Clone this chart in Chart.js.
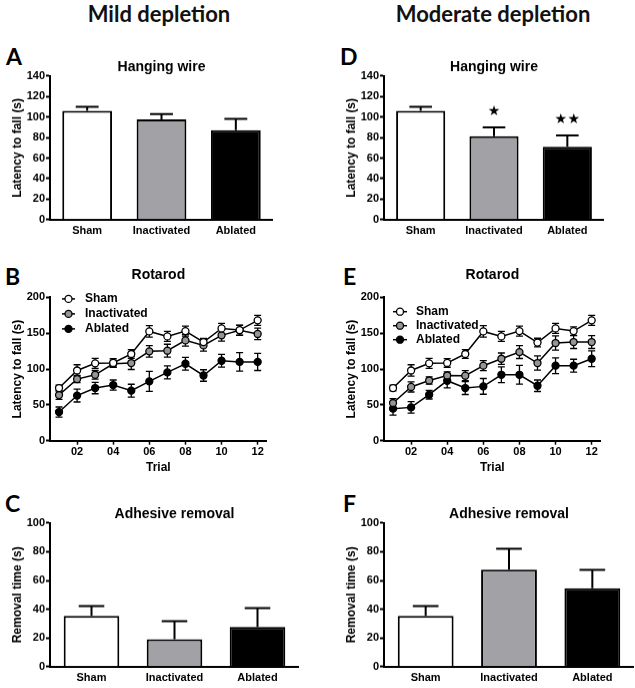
<!DOCTYPE html>
<html><head><meta charset="utf-8">
<script src="https://cdn.jsdelivr.net/npm/chart.js@4.4.1/dist/chart.umd.min.js"></script>
<style>
html,body{margin:0;padding:0;background:#fff;width:635px;height:688px;overflow:hidden;}
.panel{position:absolute;}
.hdr{position:absolute;font-family:Lato,"Open Sans",sans-serif;font-weight:700;font-size:22px;line-height:22px;white-space:nowrap;color:#111;transform:translateX(-50%);}
.let{position:absolute;font-family:Lato,"Open Sans",sans-serif;font-weight:700;font-size:23px;line-height:23px;color:#000;}
</style></head><body>
<div class="hdr" style="left:159px;top:3px;">Mild depletion</div>
<div class="hdr" style="left:493px;top:3px;">Moderate depletion</div>
<div class="let" style="left:6px;top:45px;">A</div>
<div class="let" style="left:5px;top:265px;">B</div>
<div class="let" style="left:5px;top:492px;">C</div>
<div class="let" style="left:340px;top:45px;">D</div>
<div class="let" style="left:343px;top:265px;">E</div>
<div class="let" style="left:343px;top:492px;">F</div>
<div class="panel" id="pA"><canvas id="cA"></canvas></div>
<div class="panel" id="pB"><canvas id="cB"></canvas></div>
<div class="panel" id="pC"><canvas id="cC"></canvas></div>
<div class="panel" id="pD"><canvas id="cD"></canvas></div>
<div class="panel" id="pE"><canvas id="cE"></canvas></div>
<div class="panel" id="pF"><canvas id="cF"></canvas></div>
<script>
// ---------------- DATA ----------------
const groups = ['Sham', 'Inactivated', 'Ablated'];

const wireMildMeans = [106, 97.7, 87.3];
const wireMildSem   = [4, 5.2, 11];
const wireModMeans  = [106, 81.4, 71];
const wireModSem    = [4, 8.5, 11];
const wireModSig    = ['', '★', '★★'];

const adhMildMeans = [35.4, 19.1, 27.7];
const adhMildSem   = [6.8, 12.6, 13.1];
const adhModMeans  = [35.4, 67.6, 54.5];
const adhModSem    = [6.8, 14.4, 12.9];

const trials = [1, 2, 3, 4, 5, 6, 7, 8, 9, 10, 11, 12];
const trialTickValues = [2, 4, 6, 8, 10, 12];
const trialTickLabels = ['02', '04', '06', '08', '10', '12'];

const rotaMildSham     = [73.5, 98, 108, 108.5, 121, 152.5, 145.6, 153, 137.7, 156.7, 154.4, 168];
const rotaMildShamSem  = [4, 8, 7, 6, 6, 8, 7, 7, 5, 7, 7, 7];
const rotaMildInact    = [63.7, 86, 92, 107.4, 108.4, 124.7, 125.6, 140, 133, 147, 154, 149];
const rotaMildInactSem = [6, 5, 6, 5, 9, 8, 9, 8, 8, 8, 7, 8];
const rotaMildAbl      = [40, 63, 73.5, 77.7, 69.8, 82.8, 95.3, 107.4, 91, 111.6, 110, 110];
const rotaMildAblSem   = [7, 9, 8, 7, 9, 14, 9, 9, 8, 9, 13, 12];

const rotaModSham      = [73.5, 98, 108, 108.5, 121, 152.5, 145.6, 153, 137, 156.7, 153, 168];
const rotaModShamSem   = [4, 8, 7, 6, 6, 8, 7, 7, 6, 7, 6, 7];
const rotaModInact     = [52.6, 75, 84, 91, 90.7, 104.7, 114.4, 123.7, 108.4, 136.3, 137.7, 137.7];
const rotaModInactSem  = [6, 7, 5, 5, 7, 7, 8, 9, 10, 10, 9, 9];
const rotaModAbl       = [44.7, 46.5, 64.2, 83.7, 73.5, 75.8, 92, 92, 76.7, 104.7, 104.7, 114.4];
const rotaModAblSem    = [9, 8, 6, 10, 9, 11, 11, 13, 8, 11, 9, 11];

// ---------------- STYLE ----------------
Chart.defaults.font.family = '"Liberation Sans", Arial, sans-serif';
Chart.defaults.font.weight = 'bold';
Chart.defaults.color = '#000';

const barFills = ['#ffffff', '#a2a2a6', '#000000'];

const errorBarsPlugin = {
  id: 'errorBars',
  beforeDatasetsDraw(chart, args, opts) { if (opts.mode === 'line') drawErrors(chart, opts); },
  afterDatasetsDraw(chart, args, opts) { if (opts.mode === 'bar') drawErrors(chart, opts); }
};
function drawErrors(chart, opts) {
  const ctx = chart.ctx, ys = chart.scales.y;
  chart.data.datasets.forEach((ds, di) => {
    if (!ds.errors) return;
    const meta = chart.getDatasetMeta(di);
    ctx.save();
    ctx.strokeStyle = '#000';
    ctx.lineWidth = opts.lineWidth;
    meta.data.forEach((el, i) => {
      const v = opts.mode === 'bar' ? ds.data[i] : ds.data[i].y;
      const e = ds.errors[i];
      const yt = ys.getPixelForValue(v + e);
      const yb = opts.mode === 'bar' ? ys.getPixelForValue(v) : ys.getPixelForValue(v - e);
      const hw = opts.mode === 'bar' ? el.width * opts.capFrac : opts.capHalf;
      ctx.beginPath();
      ctx.moveTo(el.x, yb); ctx.lineTo(el.x, yt);
      ctx.moveTo(el.x - hw, yt); ctx.lineTo(el.x + hw, yt);
      if (opts.mode === 'line') { ctx.moveTo(el.x - hw, yb); ctx.lineTo(el.x + hw, yb); }
      ctx.stroke();
    });
    ctx.restore();
  });
}

const sigPlugin = {
  id: 'sigStars',
  afterDatasetsDraw(chart, args, opts) {
    const ds = chart.data.datasets[0];
    if (!ds.sig) return;
    const ctx = chart.ctx, ys = chart.scales.y, meta = chart.getDatasetMeta(0);
    ctx.save();
    ctx.fillStyle = '#000';
    ctx.font = opts.font;
    ctx.textAlign = 'center';
    ctx.textBaseline = 'middle';
    meta.data.forEach((el, i) => {
      if (!ds.sig[i]) return;
      const chars = Array.from(ds.sig[i]);
      const yt = ys.getPixelForValue(ds.data[i] + ds.errors[i]);
      const x0 = el.x - (chars.length - 1) * opts.spacing / 2;
      chars.forEach((c, k) => ctx.fillText(c, x0 + k * opts.spacing, yt - opts.gap));
    });
    ctx.restore();
  }
};

const lineLegendPlugin = {
  id: 'lineLegend',
  afterDraw(chart, args, opts) {
    if (!opts.show) return;
    const ctx = chart.ctx, a = chart.chartArea;
    ctx.save();
    chart.data.datasets.forEach((ds, i) => {
      const y = a.top + opts.y0 + i * opts.dy;
      const x0 = a.left + opts.x0, x1 = a.left + opts.x1;
      ctx.strokeStyle = '#000'; ctx.lineWidth = ds.borderWidth;
      ctx.beginPath(); ctx.moveTo(x0, y); ctx.lineTo(x1, y); ctx.stroke();
      ctx.beginPath(); ctx.arc((x0 + x1) / 2, y, ds.pointRadius, 0, Math.PI * 2);
      ctx.fillStyle = ds.pointBackgroundColor; ctx.fill();
      ctx.lineWidth = ds.pointBorderWidth; ctx.strokeStyle = ds.pointBorderColor; ctx.stroke();
      ctx.fillStyle = '#000';
      ctx.font = 'bold 12px "Liberation Sans", Arial, sans-serif';
      ctx.textAlign = 'left'; ctx.textBaseline = 'middle';
      ctx.fillText(ds.label, a.left + opts.textX, y);
    });
    ctx.restore();
  }
};

Chart.register(errorBarsPlugin, sigPlugin, lineLegendPlugin);

const Y_W = 50, RP = 6;
function place(id, area, titlePadBottom, xH) {
  const titleH = 2 + 14 * 1.2 + titlePadBottom;
  const el = document.getElementById(id);
  el.style.left = (area.l - Y_W) + 'px';
  el.style.top = (area.t - titleH) + 'px';
  el.style.width = (area.r - area.l + Y_W + RP) + 'px';
  el.style.height = (area.b - area.t + titleH + xH) + 'px';
}

function yAxis(max, step, label) {
  return {
    min: 0, max: max,
    ticks: { stepSize: step, color: '#000', font: { size: 11, weight: 'bold' }, padding: 1 },
    grid: { drawOnChartArea: false, drawTicks: true, tickLength: 4, tickColor: '#000', tickWidth: 2 },
    border: { display: true, color: '#000', width: 2 },
    title: { display: true, text: label, color: '#000', font: { size: 12, weight: 'bold' }, padding: { top: 10, bottom: 0 } },
    afterFit(s) { s.width = Y_W; }
  };
}

function barChart(canvasId, title, means, sems, yMax, yStep, yLabel, xH, sig) {
  const ds = {
    data: means, errors: sems,
    backgroundColor: barFills, borderColor: '#000', borderWidth: 2,
    barPercentage: 0.67, categoryPercentage: 1
  };
  if (sig) ds.sig = sig;
  return new Chart(document.getElementById(canvasId), {
    type: 'bar',
    data: { labels: groups, datasets: [ds] },
    options: {
      responsive: true, maintainAspectRatio: false, animation: false, events: [],
      layout: { padding: 0 },
      plugins: {
        legend: { display: false }, tooltip: { enabled: false },
        title: { display: true, text: title, color: '#000', font: { size: 14, weight: 'bold' }, padding: { top: 2, bottom: 0 }, fullSize: false },
        errorBars: { mode: 'bar', lineWidth: 2, capFrac: 0.23 },
        sigStars: { gap: 16, spacing: 13, font: '14px "DejaVu Sans", sans-serif' },
        lineLegend: { show: false }
      },
      scales: {
        x: {
          offset: true,
          grid: { display: false, drawTicks: false },
          border: { display: true, color: '#000', width: 2 },
          ticks: { color: '#000', font: { size: 11, weight: 'bold' }, padding: 5 },
          afterFit(s) { s.height = xH; }
        },
        y: yAxis(yMax, yStep, yLabel)
      }
    }
  });
}

function lineDs(label, vals, sems, fill) {
  return {
    label: label,
    data: trials.map((t, i) => ({ x: t, y: vals[i] })),
    errors: sems,
    borderColor: '#000', borderWidth: 1.5, tension: 0,
    pointRadius: 3.5, pointBorderWidth: 1.3,
    pointBackgroundColor: fill, pointBorderColor: '#000'
  };
}

function lineChart(canvasId, sham, shamSem, inact, inactSem, abl, ablSem, legendOpts) {
  return new Chart(document.getElementById(canvasId), {
    type: 'line',
    data: {
      datasets: [
        lineDs('Sham', sham, shamSem, '#ffffff'),
        lineDs('Inactivated', inact, inactSem, '#959595'),
        lineDs('Ablated', abl, ablSem, '#000000')
      ]
    },
    options: {
      responsive: true, maintainAspectRatio: false, animation: false, events: [],
      layout: { padding: 0 },
      plugins: {
        legend: { display: false }, tooltip: { enabled: false },
        title: { display: true, text: 'Rotarod', color: '#000', font: { size: 14, weight: 'bold' }, padding: { top: 2, bottom: 13.6 }, fullSize: false },
        errorBars: { mode: 'line', lineWidth: 1.3, capHalf: 3.5 },
        sigStars: {},
        lineLegend: Object.assign({ show: true }, legendOpts)
      },
      scales: {
        x: {
          type: 'linear', min: 0.5, max: 12.5,
          afterBuildTicks(s) { s.ticks = trialTickValues.map(v => ({ value: v })); },
          ticks: {
            color: '#000', font: { size: 11, weight: 'bold' }, padding: 1,
            callback: (v) => trialTickLabels[trialTickValues.indexOf(v)]
          },
          grid: { drawOnChartArea: false, drawTicks: true, tickLength: 4, tickColor: '#000', tickWidth: 1.5 },
          border: { display: true, color: '#000', width: 2 },
          title: { display: true, text: 'Trial', color: '#000', font: { size: 12, weight: 'bold' }, padding: { top: 0, bottom: 0 } },
          afterFit(s) { s.height = 34.5; }
        },
        y: yAxis(200, 50, 'Latency to fall (s)')
      }
    }
  });
}

// ---------------- LAYOUT ----------------
const areaA = { l: 50, t: 76, r: 267, b: 219 };
const areaD = { l: 384, t: 76, r: 598, b: 219 };
const areaB = { l: 50, t: 297.7, r: 266, b: 441 };
const areaE = { l: 384, t: 297.7, r: 600, b: 441 };
const areaC = { l: 50, t: 522.7, r: 293, b: 665.7 };
const areaF = { l: 384, t: 522.7, r: 628, b: 665.7 };

place('pA', areaA, 0, 30);
place('pD', areaD, 0, 30);
place('pB', areaB, 13.6, 34.5);
place('pE', areaE, 13.6, 34.5);
place('pC', areaC, 0, 22);
place('pF', areaF, 0, 22);

barChart('cA', 'Hanging wire', wireMildMeans, wireMildSem, 140, 20, 'Latency to fall (s)', 30);
barChart('cD', 'Hanging wire', wireModMeans, wireModSem, 140, 20, 'Latency to fall (s)', 30, wireModSig);
barChart('cC', 'Adhesive removal', adhMildMeans, adhMildSem, 100, 20, 'Removal time (s)', 22);
barChart('cF', 'Adhesive removal', adhModMeans, adhModSem, 100, 20, 'Removal time (s)', 22);

lineChart('cB', rotaMildSham, rotaMildShamSem, rotaMildInact, rotaMildInactSem, rotaMildAbl, rotaMildAblSem,
  { x0: 12, x1: 25, textX: 35, y0: 1.5, dy: 15 });
lineChart('cE', rotaModSham, rotaModShamSem, rotaModInact, rotaModInactSem, rotaModAbl, rotaModAblSem,
  { x0: 9, x1: 23, textX: 32, y0: 14.3, dy: 14 });
</script>
</body></html>
